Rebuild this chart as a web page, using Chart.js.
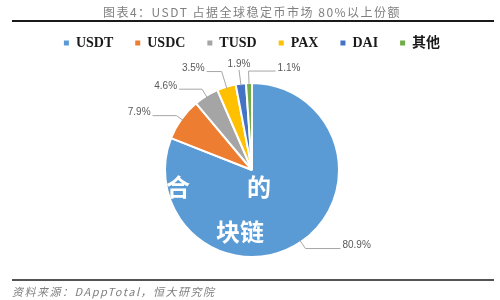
<!DOCTYPE html>
<html>
<head>
<meta charset="utf-8">
<script src="https://cdn.jsdelivr.net/npm/chart.js@4.4.1/dist/chart.umd.min.js"></script>
<style>
  html, body { margin: 0; padding: 0; background: #fff; }
  #wrap { width: 500px; height: 300px; position: relative; }
</style>
</head>
<body>
<div id="wrap"><canvas id="share-chart"></canvas></div>
<script>
// stablecoin market share
const categories = ['USDT', 'USDC', 'TUSD', 'PAX', 'DAI', '其他'];
const shares = [80.9, 7.9, 4.6, 3.5, 1.9, 1.1];
const sliceColors = ['#5B9BD5', '#ED7D31', '#A5A5A5', '#FFC000', '#4472C4', '#70AD47'];

const titleText = '图表4：USDT 占据全球稳定币市场 80%以上份额';
const sourceText = '资料来源：DAppTotal，恒大研究院';

// how each value label sits relative to its slice: push out along radius, then sideways
const labelLayout = [
    { out: 8, side: 35, align: 'left' },
    { out: 6, side: -24, align: 'right' },
    { out: 8, side: -23, align: 'right' },
    { out: 16, side: -15, align: 'right' },
    { out: 14, side: 0, align: 'center' },
    { out: 12, side: 27, align: 'left' }
];

const framePlugin = {
    id: 'frame',
    afterDraw(chart) {
        const ctx = chart.ctx;
        ctx.save();
        // title
        ctx.fillStyle = '#7f7f7f';
        ctx.font = '12px "Noto Sans CJK SC"';
        ctx.textAlign = 'center';
        ctx.textBaseline = 'middle';
        ctx.letterSpacing = '1.5px';
        ctx.fillText(titleText, 252, 12);
        // rules
        ctx.strokeStyle = '#1a1a1a';
        ctx.lineWidth = 2;
        ctx.beginPath();
        ctx.moveTo(12, 21);
        ctx.lineTo(494, 21);
        ctx.stroke();
        ctx.lineWidth = 1.5;
        ctx.beginPath();
        ctx.moveTo(12, 280);
        ctx.lineTo(494, 280);
        ctx.stroke();
        // source
        ctx.fillStyle = '#7f7f7f';
        ctx.font = 'italic 11px "Noto Sans CJK SC"';
        ctx.textAlign = 'left';
        ctx.letterSpacing = '1.5px';
        ctx.fillText(sourceText, 12, 292);
        ctx.restore();
    }
};

const sliceLabelPlugin = {
    id: 'sliceLabels',
    afterDatasetsDraw(chart) {
        const ctx = chart.ctx;
        const arcs = chart.getDatasetMeta(0).data;
        ctx.save();
        // watermark over the big slice
        const c = arcs[0];
        ctx.fillStyle = '#ffffff';
        ctx.font = 'bold 24px "Noto Sans CJK SC"';
        ctx.textAlign = 'center';
        ctx.textBaseline = 'middle';
        ctx.fillText('合', c.x - 74, c.y + 17);
        ctx.fillText('的', c.x + 7, c.y + 17);
        ctx.fillText('块链', c.x - 12, c.y + 62);

        ctx.font = '10px "Liberation Sans"';
        ctx.fillStyle = '#595959';
        ctx.strokeStyle = '#a6a6a6';
        ctx.lineWidth = 1;
        arcs.forEach((arc, i) => {
            const lay = labelLayout[i];
            const mid = (arc.startAngle + arc.endAngle) / 2;
            const r = arc.outerRadius;
            const sx = arc.x + Math.cos(mid) * (r - 2);
            const sy = arc.y + Math.sin(mid) * (r - 2);
            const ex = arc.x + Math.cos(mid) * (r + lay.out);
            const ey = arc.y + Math.sin(mid) * (r + lay.out);
            const hx = ex + lay.side;
            ctx.beginPath();
            ctx.moveTo(sx, sy);
            ctx.lineTo(ex, ey);
            ctx.lineTo(hx, ey);
            ctx.stroke();
            const txt = shares[i].toFixed(1) + '%';
            ctx.textAlign = lay.align;
            if (lay.align === 'center') {
                ctx.textBaseline = 'bottom';
                ctx.fillText(txt, hx, ey - 1);
            } else {
                ctx.textBaseline = 'middle';
                const tx = lay.align === 'left' ? hx + 2 : hx - 2;
                ctx.fillText(txt, tx, ey - 3);
            }
        });
        ctx.restore();
    }
};

const canvas = document.getElementById('share-chart');
const ctx = canvas.getContext('2d');

new Chart(ctx, {
    type: 'pie',
    data: {
        labels: categories,
        datasets: [{
            data: shares,
            backgroundColor: sliceColors,
            borderColor: '#ffffff',
            borderWidth: 2,
            radius: 87
        }]
    },
    options: {
        responsive: true,
        maintainAspectRatio: false,
        animation: false,
        layout: {
            padding: { left: 4, right: 0, top: 14, bottom: 20 }
        },
        plugins: {
            title: { display: false },
            tooltip: { enabled: false },
            legend: {
                position: 'top',
                labels: {
                    boxWidth: 5,
                    boxHeight: 5,
                    padding: 22,
                    color: '#1a1a1a',
                    font: { family: '"Liberation Serif", "Noto Sans CJK SC"', size: 14, weight: 'bold' },
                    generateLabels(chart) {
                        const items = Chart.overrides.pie.plugins.legend.labels.generateLabels(chart);
                        return items.map(it => Object.assign(it, { lineWidth: 0 }));
                    }
                }
            }
        }
    },
    plugins: [framePlugin, sliceLabelPlugin]
});
</script>
</body>
</html>
